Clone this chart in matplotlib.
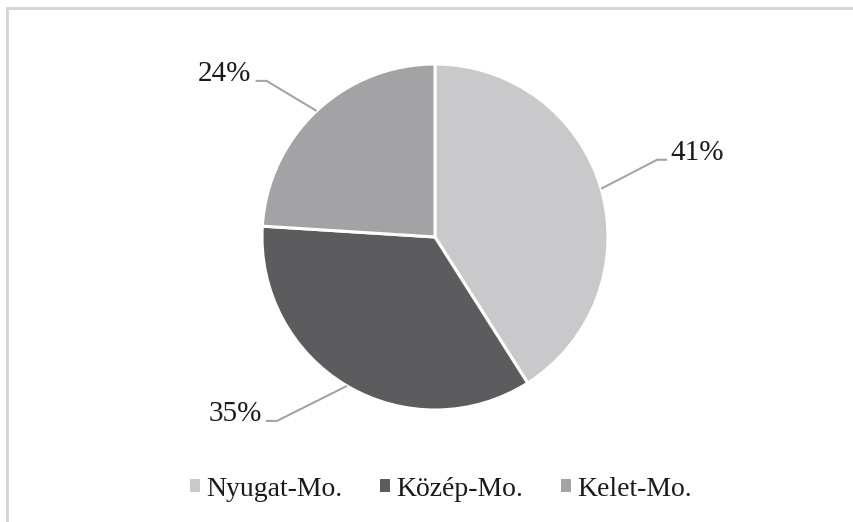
import matplotlib
matplotlib.use("Agg")
import matplotlib.pyplot as plt
from matplotlib.lines import Line2D
from matplotlib.patches import Patch
import numpy as np

categories = ["Nyugat-Mo.", "Közép-Mo.", "Kelet-Mo."]
values = [41, 35, 24]
labels = ["41%", "35%", "24%"]
colors = ["#c9c9cb", "#5c5c5e", "#a3a3a5"]

plt.rcParams['font.family'] = ['Liberation Serif', 'DejaVu Serif']

W, H = 854, 522
fig = plt.figure(figsize=(W / 100, H / 100), dpi=100)
ax = fig.add_axes([0, 0, 1, 1])

cx, cy, r = 435, H - 237, 173
wedges, _ = ax.pie(values, colors=colors, startangle=90, counterclock=False,
                   center=(cx, cy), radius=r, frame=True,
                   wedgeprops=dict(edgecolor='white', linewidth=2.2))
ax.set_xlim(0, W)
ax.set_ylim(0, H)
ax.set_aspect('equal')
ax.axis('off')

# label elbow offsets (pixels) relative to wedge edge point, and side
elbows = [(56, 29, 'left'), (-70, -35, 'right'), (-50, 30, 'right')]
for w, lab, (dx, dy, side) in zip(wedges, labels, elbows):
    mid = np.deg2rad((w.theta1 + w.theta2) / 2)
    ex, ey = cx + r * np.cos(mid), cy + r * np.sin(mid)
    bx, by = ex + dx, ey + dy
    hx = bx + (10 if side == 'left' else -11)
    ax.plot([ex, bx, hx], [ey, by, by], color='#a5a5a5', lw=1.5,
            solid_capstyle='butt', zorder=1)
    tx = hx + (3 if side == 'left' else -4)
    ax.text(tx, by + 7, lab, ha=side, va='center', fontsize=21, color='#1a1a1a')

handles = [Patch(facecolor=c, edgecolor='none') for c in colors]
leg = fig.legend(handles, categories, loc='center', bbox_to_anchor=(441 / W, 1 - 489 / H),
                 ncol=3, frameon=False, fontsize=20, handlelength=0.36,
                 handleheight=0.36, handletextpad=0.22, columnspacing=1.37,
                 labelcolor='#1a1a1a', borderpad=0)

# partial frame (top and left edges)
fig.add_artist(Line2D([7 / W, 1], [1 - 8 / H, 1 - 8 / H], color='#d4d4d4', lw=2,
                      transform=fig.transFigure))
fig.add_artist(Line2D([7 / W, 7 / W], [0, 1 - 8 / H], color='#d4d4d4', lw=2,
                      transform=fig.transFigure))

fig.savefig("out.png", dpi=100, facecolor='white')
